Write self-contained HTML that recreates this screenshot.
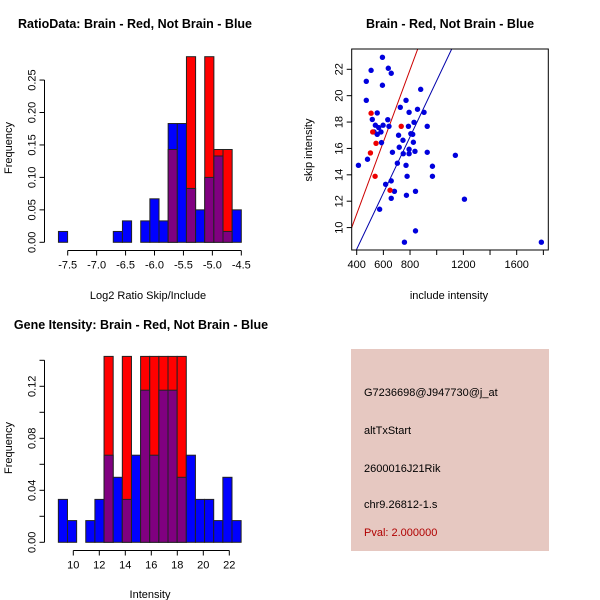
<!DOCTYPE html>
<html><head><meta charset="utf-8"><style>
body{margin:0;background:#fff;}
svg{display:block;font-family:"Liberation Sans",sans-serif;}
</style></head><body>
<svg id="c" width="600" height="600">
<rect x="0" y="0" width="600" height="600" fill="#fff"/>
<text x="135" y="28" font-size="12.5" font-weight="bold" text-anchor="middle">RatioData: Brain - Red, Not Brain - Blue</text>
<text x="450" y="28" font-size="12.5" font-weight="bold" text-anchor="middle">Brain - Red, Not Brain - Blue</text>
<text x="141" y="329" font-size="12.5" font-weight="bold" text-anchor="middle">Gene Itensity: Brain - Red, Not Brain - Blue</text>
<text x="148" y="299" font-size="11" text-anchor="middle">Log2 Ratio Skip/Include</text>
<text x="0" y="0" font-size="11" text-anchor="middle" transform="translate(12,148) rotate(-90)">Frequency</text>
<text x="449" y="299" font-size="11" text-anchor="middle">include intensity</text>
<text x="0" y="0" font-size="11" text-anchor="middle" transform="translate(312,150) rotate(-90)">skip intensity</text>
<text x="150" y="598" font-size="11" text-anchor="middle">Intensity</text>
<text x="0" y="0" font-size="11" text-anchor="middle" transform="translate(12,448) rotate(-90)">Frequency</text>
<g>
<rect x="351" y="349" width="198" height="202" fill="#e6c8c1"/>
<text x="364" y="396" font-size="11">G7236698@J947730@j_at</text>
<text x="364" y="434" font-size="11">altTxStart</text>
<text x="364" y="472" font-size="11">2600016J21Rik</text>
<text x="364" y="508" font-size="11">chr9.26812-1.s</text>
<text x="364" y="536" font-size="11" fill="#b00000">Pval: 2.000000</text>
</g>
</svg>
<script>
// ---- Ratio histogram data ----
const ratioStart = -7.66;
const ratioBinW = 0.158;
const ratioBlue = [0.0167,0,0,0,0,0,0.0167,0.033,0,0.033,0.067,0.033,0.183,0.183,0.083,0.05,0.1,0.133,0.0167,0.05];
const ratioRed  = [0,0,0,0,0,0,0,0,0,0,0,0,0.143,0,0.286,0,0.286,0.143,0.143,0];
const ratioXTicks = [-7.5,-7.0,-6.5,-6.0,-5.5,-5.0,-4.5];
const ratioYTicks = [0,0.05,0.10,0.15,0.20,0.25];
// ---- Intensity histogram data ----
const intStart = 8.85;
const intBinW = 0.703;
const intBlue = [0.033,0.0167,0,0.0167,0.033,0.067,0.05,0.033,0.067,0.117,0.067,0.117,0.117,0.05,0.067,0.033,0.033,0.0167,0.05,0.0167];
const intRed  = [0,0,0,0,0,0.143,0,0.143,0,0.143,0.143,0.143,0.143,0.143,0,0,0,0,0,0];
const intXTicks = [10,12,14,16,18,20,22];
const intYTicks = [0,0.02,0.04,0.06,0.08,0.10,0.12,0.14];
const intYLabels = ["0.00","","0.04","","0.08","","0.12",""];
// ---- Scatter data ----
const blueX = [413,472,472,481,508,517,530,540,554,554,565,582,586,593,593,598,572,617,633,637,642,659,659,659,668,683,705,714,719,727,747,749,758,770,770,773,778,788,793,793,793,806,820,825,830,837,841,841,856,880,905,929,929,968,968,1140,1208,1785];
const blueY = [14.72,19.65,21.09,15.18,21.92,18.2,17.25,17.76,18.69,17.07,17.58,17.25,16.44,22.91,20.79,17.76,11.39,13.28,18.18,22.08,17.68,21.7,13.54,12.22,15.71,12.75,14.88,17.0,16.09,19.12,16.62,15.6,8.89,19.65,14.72,12.45,13.89,17.68,18.74,15.94,15.6,17.12,17.07,16.47,17.98,15.78,12.75,9.75,18.97,20.48,18.74,17.68,15.71,14.65,13.89,15.48,12.15,8.89];
const redX = [508,520,503,545,538,650,734];
const redY = [18.67,17.25,15.66,16.39,13.89,12.83,17.68];
const redLine = [0.085, 0.02735];   // intercept, slope
const blueLine = [-0.16, 0.0213];
const scXTicks = [400,600,800,1000,1200,1400,1600,1800];
const scXLabels = ["400","600","800","","1200","","1600",""];
const scYTicks = [10,12,14,16,18,20,22];

const svg = document.getElementById('c');
const NS = 'http://www.w3.org/2000/svg';
function mk(tag, attrs, parent){
  const e = document.createElementNS(NS, tag);
  for (const k in attrs) e.setAttribute(k, attrs[k]);
  (parent||svg).appendChild(e);
  return e;
}

function hist(g, start, w, blue, red, sx, sy){
  for (let i=0;i<blue.length;i++){
    const x0 = sx(start+i*w), x1 = sx(start+(i+1)*w);
    const b = blue[i], r = red[i];
    const top = Math.max(b,r);
    if (top<=0) continue;
    const col = r>b ? '#ff0000' : '#0000ff';
    const bar = mk('rect',{x:x0,y:sy(top),width:x1-x0,height:sy(0)-sy(top),fill:col,stroke:'#222','stroke-width':1},g);
    
    
    const m = Math.min(b,r);
    if (m>0){
      const p = mk('rect',{x:x0,y:sy(m),width:x1-x0,height:sy(0)-sy(m),fill:'#800080',stroke:'#222','stroke-width':1},g);
      
      
    }
  }
}
function xAxis(g, ticks, labels, sx, y){
  mk('line',{x1:sx(ticks[0]),x2:sx(ticks[ticks.length-1]),y1:y,y2:y,stroke:'#000'},g);
  ticks.forEach((t,i)=>{
    mk('line',{x1:sx(t),x2:sx(t),y1:y,y2:y+5,stroke:'#000'},g);
    if (labels[i]!==''){
      const tx = mk('text',{x:sx(t),y:y+18,'font-size':11,'text-anchor':'middle'},g);
      tx.textContent = labels[i];
      
      
    }
  });
}
function yAxis(g, ticks, labels, sy, x){
  mk('line',{x1:x,x2:x,y1:sy(ticks[0]),y2:sy(ticks[ticks.length-1]),stroke:'#000'},g);
  ticks.forEach((t,i)=>{
    mk('line',{x1:x-5,x2:x,y1:sy(t),y2:sy(t),stroke:'#000'},g);
    if (labels[i]!==''){
      const tx = mk('text',{x:0,y:0,'font-size':11,'text-anchor':'middle',transform:`translate(${x-9},${sy(t)}) rotate(-90)`},g);
      tx.textContent = labels[i];
      
      
    }
  });
}

// Ratio histogram
{
  const g = mk('g',{});
  
  
  const sx = v => 67.7 + (v+7.5)*57.87;
  const sy = v => 242.3 - v*649;
  hist(g, ratioStart, ratioBinW, ratioBlue, ratioRed, sx, sy);
  xAxis(g, ratioXTicks, ratioXTicks.map(v=>v.toFixed(1)), sx, 250.5);
  yAxis(g, ratioYTicks, ratioYTicks.map(v=>v.toFixed(2)), sy, 44.5);
}
// Intensity histogram
{
  const g = mk('g',{});
  
  
  const sx = v => 73.3 + (v-10)*13;
  const sy = v => 542.3 - v*1300;
  hist(g, intStart, intBinW, intBlue, intRed, sx, sy);
  xAxis(g, intXTicks, intXTicks.map(String), sx, 550.5);
  yAxis(g, intYTicks, intYLabels, sy, 44.5);
}
// Scatter
{
  const g = mk('g',{});
  
  
  const L=351.7,R=548.3,T=49,B=250;
  const sx = v => 356.7 + (v-400)*0.13333;
  const sy = v => 69.3 - (v-22)*13.19;
  const dx0 = 400 + (L-356.7)/0.13333, dx1 = 400 + (R-356.7)/0.13333;
  const clip = mk('clipPath',{id:'sc'},g);
  mk('rect',{x:L,y:T,width:R-L,height:B-T},clip);
  [[redLine,'#cc0000','red-fit-line'],[blueLine,'#0000aa','blue-fit-line']].forEach(([ln,col,nm])=>{
    const l = mk('line',{x1:sx(dx0),y1:sy(ln[0]+ln[1]*dx0),x2:sx(dx1),y2:sy(ln[0]+ln[1]*dx1),stroke:col,'clip-path':'url(#sc)'},g);
    
    
  });
  blueX.forEach((x,i)=>{
    const c = mk('circle',{cx:sx(x),cy:sy(blueY[i]),r:2.7,fill:'#0000dd'},g);
    
    
  });
  redX.forEach((x,i)=>{
    const c = mk('circle',{cx:sx(x),cy:sy(redY[i]),r:2.7,fill:'#ee0000'},g);
    
    
  });
  const box = mk('rect',{x:L,y:T,width:R-L,height:B-T,fill:'none',stroke:'#000'},g);
  
  
  scXTicks.forEach((t,i)=>{
    mk('line',{x1:sx(t),x2:sx(t),y1:B,y2:B+5,stroke:'#000'},g);
    if (scXLabels[i]!==''){
      const tx = mk('text',{x:sx(t),y:B+18,'font-size':11,'text-anchor':'middle'},g);
      tx.textContent = scXLabels[i];
      
      
    }
  });
  scYTicks.forEach(t=>{
    mk('line',{x1:L-5,x2:L,y1:sy(t),y2:sy(t),stroke:'#000'},g);
    const tx = mk('text',{x:0,y:0,'font-size':11,'text-anchor':'middle',transform:`translate(${L-9},${sy(t)}) rotate(-90)`},g);
    tx.textContent = String(t);
    
    
  });
}
</script>
</body></html>
